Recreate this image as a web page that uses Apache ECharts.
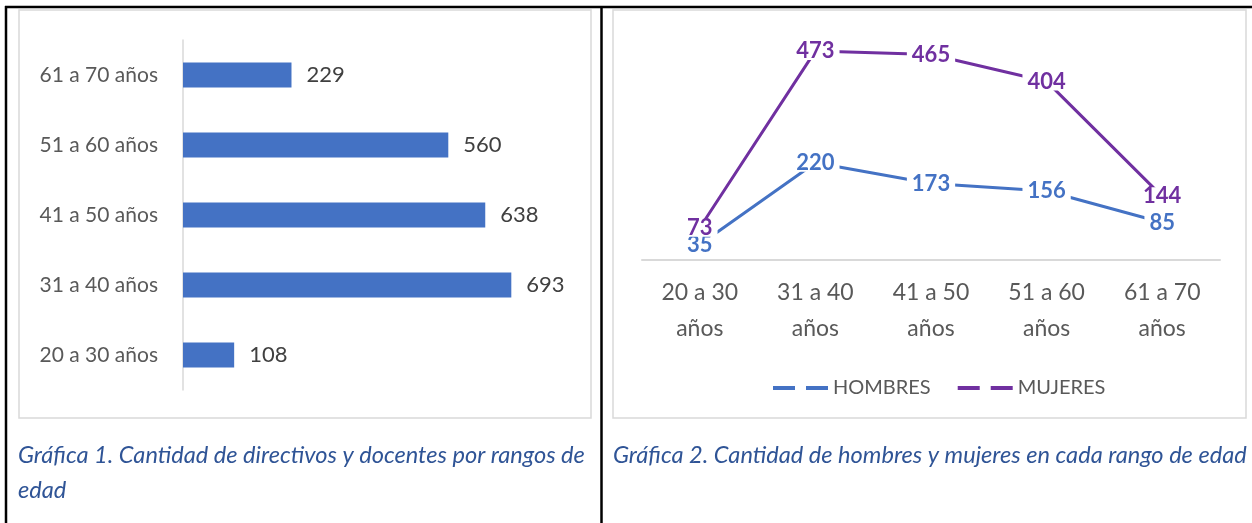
<!DOCTYPE html>
<html>
<head>
<meta charset="utf-8">
<title>Gráficas por rangos de edad</title>
<script src="https://cdn.jsdelivr.net/npm/echarts@6.0.0/dist/echarts.min.js"></script>
<style>
html,body{margin:0;padding:0;background:#fff;}
#main{width:1252px;height:523px;}
</style>
</head>
<body>
<div id="main"></div>
<script>
// datos
var rangos = ['20 a 30 años', '31 a 40 años', '41 a 50 años', '51 a 60 años', '61 a 70 años'];
var totales = [108, 693, 638, 560, 229];
var hombres = [35, 220, 173, 156, 85];
var mujeres = [73, 473, 465, 404, 144];
var series2 = ['HOMBRES', 'MUJERES'];
var caption1 = 'Gráfica 1. Cantidad de directivos y docentes por rangos de\nedad';
var caption2 = 'Gráfica 2. Cantidad de hombres y mujeres en cada rango de edad';

var font = 'Lato, "Open Sans", sans-serif';
var azul = '#4472C4';
var morado = '#7030A0';
var gris = '#595959';
var caption = '#2F5496';

var dom = document.getElementById('main');
var myChart = echarts.init(dom);

function lineLabel(color){
    return {
        show: true,
        position: 'inside',
        color: color,
        fontFamily: font,
        fontWeight: 'bold',
        fontSize: 22,
        lineHeight: 18,
        backgroundColor: '#fff',
        padding: [0, 5]
    };
}

var option = {
    animation: false,
    textStyle: {fontFamily: font},
    graphic: [
        // marco de la tabla
        {type: 'line', shape: {x1: 5, y1: 7, x2: 1252, y2: 7}, style: {stroke: '#000', lineWidth: 2.5}},
        {type: 'line', shape: {x1: 6, y1: 6, x2: 6, y2: 523}, style: {stroke: '#000', lineWidth: 2.5}},
        {type: 'line', shape: {x1: 601.5, y1: 6, x2: 601.5, y2: 523}, style: {stroke: '#000', lineWidth: 2.5}},
        // recuadros de los graficos
        {type: 'rect', shape: {x: 19, y: 10, width: 572, height: 408}, style: {fill: 'none', stroke: '#d9d9d9', lineWidth: 1.5}},
        {type: 'rect', shape: {x: 613, y: 10, width: 633, height: 408}, style: {fill: 'none', stroke: '#d9d9d9', lineWidth: 1.5}},
        // titulos
        {type: 'text', left: 18, top: 438, style: {text: caption1, fill: caption, font: 'italic 23.6px ' + font, lineHeight: 35}},
        {type: 'text', left: 613, top: 438, style: {text: caption2, fill: caption, font: 'italic 23.6px ' + font, lineHeight: 35}}
    ],
    legend: {
        data: series2,
        left: 768,
        top: 373,
        itemWidth: 55,
        itemHeight: 4,
        itemGap: 27,
        icon: 'path://M0,0h22v4h-22z M33,0h22v4h-22z',
        textStyle: {color: gris, fontSize: 20, fontFamily: font}
    },
    grid: [{
        left: 183,
        top: 40,
        width: 379,
        height: 350
    }, {
        left: 642,
        top: 39,
        width: 578,
        height: 221
    }],
    xAxis: [{
        gridIndex: 0,
        type: 'value',
        min: 0,
        max: 800,
        show: false
    }, {
        gridIndex: 1,
        type: 'category',
        data: rangos,
        axisLine: {lineStyle: {color: '#d9d9d9', width: 2}},
        axisTick: {show: false},
        axisLabel: {
            color: gris,
            fontSize: 23,
            lineHeight: 36,
            margin: 15,
            formatter: function(v){
                return v.replace(' años', '\naños');
            }
        }
    }],
    yAxis: [{
        gridIndex: 0,
        type: 'category',
        data: rangos,
        axisLine: {lineStyle: {color: '#d9d9d9', width: 1.5}},
        axisTick: {show: false},
        axisLabel: {color: gris, fontSize: 21, margin: 25}
    }, {
        gridIndex: 1,
        type: 'value',
        min: 0,
        max: 500,
        show: false
    }],
    series: [{
        type: 'bar',
        xAxisIndex: 0,
        yAxisIndex: 0,
        barWidth: 25,
        itemStyle: {color: azul},
        label: {
            show: true,
            position: 'right',
            distance: 15,
            color: '#404040',
            fontSize: 22,
            fontFamily: font
        },
        data: totales
    }, {
        name: 'HOMBRES',
        type: 'line',
        xAxisIndex: 1,
        yAxisIndex: 1,
        symbol: 'circle',
        symbolSize: 0,
        lineStyle: {color: azul, width: 3},
        itemStyle: {color: azul},
        label: lineLabel(azul),
        data: hombres
    }, {
        name: 'MUJERES',
        type: 'line',
        xAxisIndex: 1,
        yAxisIndex: 1,
        symbol: 'circle',
        symbolSize: 0,
        lineStyle: {color: morado, width: 3},
        itemStyle: {color: morado},
        label: lineLabel(morado),
        data: mujeres
    }]
};

myChart.setOption(option);
window.addEventListener('resize', function(){
    myChart.resize();
});
</script>
</body>
</html>
